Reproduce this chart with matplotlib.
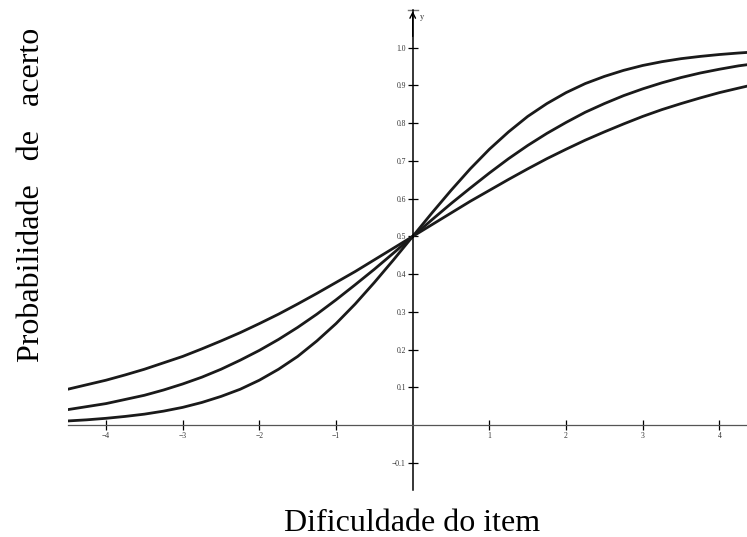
import matplotlib
matplotlib.use("Agg")
import matplotlib.pyplot as plt

# valores (curvas características do item)
x_vals = [-4.5, -4.25, -4.0, -3.75, -3.5, -3.25, -3.0, -2.75, -2.5, -2.25,
          -2.0, -1.75, -1.5, -1.25, -1.0, -0.75, -0.5, -0.25, 0.0,
          0.25, 0.5, 0.75, 1.0, 1.25, 1.5, 1.75, 2.0, 2.25,
          2.5, 2.75, 3.0, 3.25, 3.5, 3.75, 4.0, 4.25, 4.4]
curva_alta = [0.011, 0.014, 0.018, 0.023, 0.029, 0.037, 0.047, 0.060, 0.076, 0.095,
              0.119, 0.148, 0.182, 0.223, 0.269, 0.321, 0.378, 0.438, 0.500,
              0.562, 0.622, 0.679, 0.731, 0.777, 0.818, 0.852, 0.881, 0.905,
              0.924, 0.940, 0.953, 0.963, 0.971, 0.977, 0.982, 0.986, 0.988]
curva_media = [0.041, 0.049, 0.057, 0.068, 0.079, 0.093, 0.109, 0.127, 0.148, 0.172,
               0.198, 0.227, 0.259, 0.294, 0.332, 0.372, 0.413, 0.456, 0.500,
               0.544, 0.587, 0.628, 0.668, 0.706, 0.741, 0.773, 0.802, 0.829,
               0.852, 0.873, 0.891, 0.907, 0.921, 0.933, 0.943, 0.952, 0.956]
curva_baixa = [0.095, 0.107, 0.119, 0.133, 0.148, 0.165, 0.182, 0.202, 0.223, 0.245,
               0.269, 0.294, 0.321, 0.349, 0.378, 0.407, 0.438, 0.469, 0.500,
               0.531, 0.562, 0.593, 0.622, 0.651, 0.679, 0.706, 0.731, 0.755,
               0.777, 0.798, 0.818, 0.836, 0.852, 0.867, 0.881, 0.893, 0.900]

x_ticks = [-4, -3, -2, -1, 1, 2, 3, 4]
y_ticks = [-0.1, 0.1, 0.2, 0.3, 0.4, 0.5, 0.6, 0.7, 0.8, 0.9, 1.0]

plt.rcParams['font.family'] = ['Liberation Serif', 'DejaVu Serif']

fig = plt.figure(figsize=(7.47, 5.37), dpi=100)
ax = fig.add_axes([0.0906, 0.0875, 0.9094, 0.8939])

for serie in (curva_alta, curva_media, curva_baixa):
    ax.plot(x_vals, serie, color='#1a1a1a', lw=2.0, solid_joinstyle='round')

ax.set_xlim(-4.5, 4.36)
ax.set_ylim(-0.172, 1.10)

ax.spines['left'].set_position('zero')
ax.spines['bottom'].set_position('zero')
ax.spines['top'].set_visible(False)
ax.spines['right'].set_visible(False)
ax.spines['left'].set_linewidth(1.1)
ax.spines['bottom'].set_linewidth(0.9)
ax.spines['bottom'].set_color('#555555')

ax.set_xticks(x_ticks)
ax.set_xticklabels(['\u2212%d' % -t if t < 0 else '%d' % t for t in x_ticks])
ax.set_yticks(y_ticks)
ax.set_yticklabels(['\u22120.1' if t < 0 else '%.1f' % t for t in y_ticks])
ax.tick_params(axis='both', direction='inout', length=7, width=0.9,
               labelsize=5.5, labelcolor='#333333', pad=1.5)

# seta no topo do eixo y
ax.annotate('', xy=(0, 1.097), xytext=(0, 1.03),
            arrowprops=dict(arrowstyle='->', lw=1.0, color='black',
                            shrinkA=0, shrinkB=0))
ax.plot([-0.065, 0.065], [1.099, 1.099], color='#777777', lw=1.0, clip_on=False)
ax.text(0.1, 1.082, 'y', fontsize=6, color='#333333', va='center', ha='left')

fig.text(0.042, 0.637, 'Probabilidade   de   acerto', rotation=90,
         fontsize=23, ha='center', va='center')
fig.text(0.552, 0.025, 'Dificuldade do item', fontsize=23,
         ha='center', va='center')

fig.savefig('out.png', dpi=100)
